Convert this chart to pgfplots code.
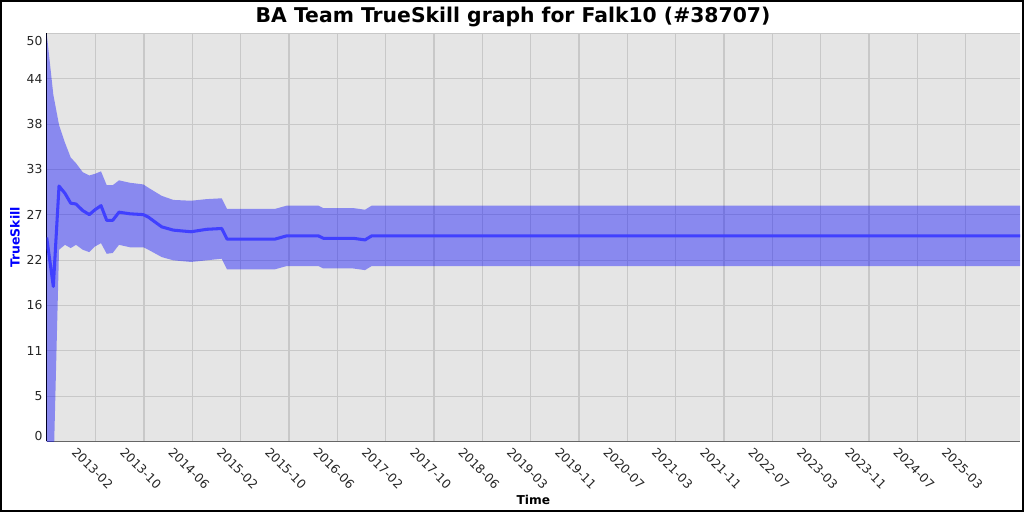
\documentclass[border=0pt]{standalone}
\usepackage{pgfplots}
\pgfplotsset{compat=1.18}
\usepackage{pgfplotstable}
\usepackage{fontspec}
\setmainfont{DejaVu Sans}
\definecolor{bgc}{RGB}{229,229,229}
\definecolor{gridc}{RGB}{200,200,200}
\definecolor{linec}{RGB}{64,64,255}
% mean rating
\pgfplotstableread{
x mean
-0.014 25.0
0.123 19.0
0.241 31.3
0.365 30.4
0.483 29.2
0.592 29.1
0.731 28.3
0.868 27.8
0.986 28.4
1.110 28.9
1.228 27.1
1.352 27.1
1.482 28.1
1.710 27.9
1.985 27.8
2.088 27.5
2.366 26.3
2.606 25.9
2.972 25.7
3.297 26.0
3.607 26.1
3.717 24.8
4.710 24.8
4.952 25.2
5.606 25.2
5.709 24.9
6.330 24.9
6.572 24.7
6.711 25.2
20.125 25.2
}\meandata
% band: upper edge left to right, then lower edge right to left
\pgfplotstableread{
x y
-0.014 50.0
0.123 42.5
0.241 38.8
0.365 36.6
0.483 34.8
0.592 34.1
0.731 33.0
0.868 32.6
0.986 32.8
1.110 33.1
1.228 31.4
1.352 31.4
1.482 32.0
1.710 31.7
1.985 31.5
2.088 31.1
2.366 30.1
2.606 29.6
2.972 29.5
3.297 29.7
3.607 29.8
3.717 28.5
4.710 28.5
4.952 28.9
5.606 28.9
5.709 28.6
6.330 28.6
6.572 28.4
6.711 28.9
20.125 28.9
20.125 21.5
6.711 21.5
6.572 21.0
6.330 21.2
5.709 21.2
5.606 21.5
4.952 21.5
4.710 21.1
3.717 21.1
3.607 22.4
3.297 22.2
2.972 22.0
2.606 22.2
2.366 22.6
2.088 23.5
1.985 23.8
1.710 23.8
1.482 24.1
1.352 23.1
1.228 23.0
1.110 24.3
0.986 23.9
0.868 23.2
0.731 23.5
0.592 24.1
0.483 23.7
0.365 24.1
0.241 23.5
0.123 -4.5
-0.014 0.0
}\banddata
\begin{document}
\begin{tikzpicture}
\begin{axis}[
  at={(33.62pt,50.76pt)}, anchor=south west,
  scale only axis, width=700.8pt, height=293.8pt,
  xmin=-0.014, xmax=20.125, ymin=0, ymax=50,
  axis background/.style={fill=bgc},
  axis x line*=bottom, axis y line*=left,
  axis line style={-},
  x axis line style={black!60, line width=1.1pt},
  y axis line style={black, line width=1.1pt},
  major tick length=0pt,
  grid=major,
  major grid style={gridc, line width=0.8pt},
  xtick={1,...,19},
  xticklabels={2013-02,2013-10,2014-06,2015-02,2015-10,2016-06,2017-02,2017-10,2018-06,2019-03,2019-11,2020-07,2021-03,2021-11,2022-07,2023-03,2023-11,2024-07,2025-03},
  ytick={0,5.5556,11.1111,16.6667,22.2222,27.7778,33.3333,38.8889,44.4444,50},
  yticklabels={{\raisebox{4pt}[\height][\depth]{0}},5,11,16,22,27,33,38,44,{\raisebox{-5.8pt}[\height][\depth]{50}}},
  xticklabel style={xshift=-2.3pt, yshift=-19.2pt, rotate=-45, anchor=center, inner sep=0pt, font=\fontsize{8.9}{10}\selectfont, text=black!85},
  yticklabel style={anchor=east, inner sep=0pt, xshift=-2.9pt, font=\fontsize{8.9}{10}\selectfont, text=black!85},
  xlabel={Time},
  xlabel style={at={(axis description cs:0.5,-0.144)}, anchor=center, font=\bfseries\fontsize{8.8}{10}\selectfont},
  ylabel={TrueSkill},
  ylabel style={at={(axis description cs:-0.0326,0.5)}, anchor=center, font=\bfseries\fontsize{9}{11}\selectfont, text=blue},
]
\addplot[fill=blue, fill opacity=0.4, draw=none] table[x=x, y=y] {\banddata} \closedcycle;
\addplot[linec, line width=2.2pt, line join=round] table[x=x, y=mean] {\meandata};
\end{axis}
\node[font=\bfseries\fontsize{14.65}{17}\selectfont, anchor=center] at (369.4pt,356.4pt) {BA Team TrueSkill graph for Falk10 (\#38707)};
\pgfresetboundingbox
\useasboundingbox (0,0) rectangle (737.28pt,368.64pt);
\draw[line width=1.44pt] (0.72pt,0.72pt) rectangle (736.56pt,367.92pt);
\end{tikzpicture}
\end{document}
